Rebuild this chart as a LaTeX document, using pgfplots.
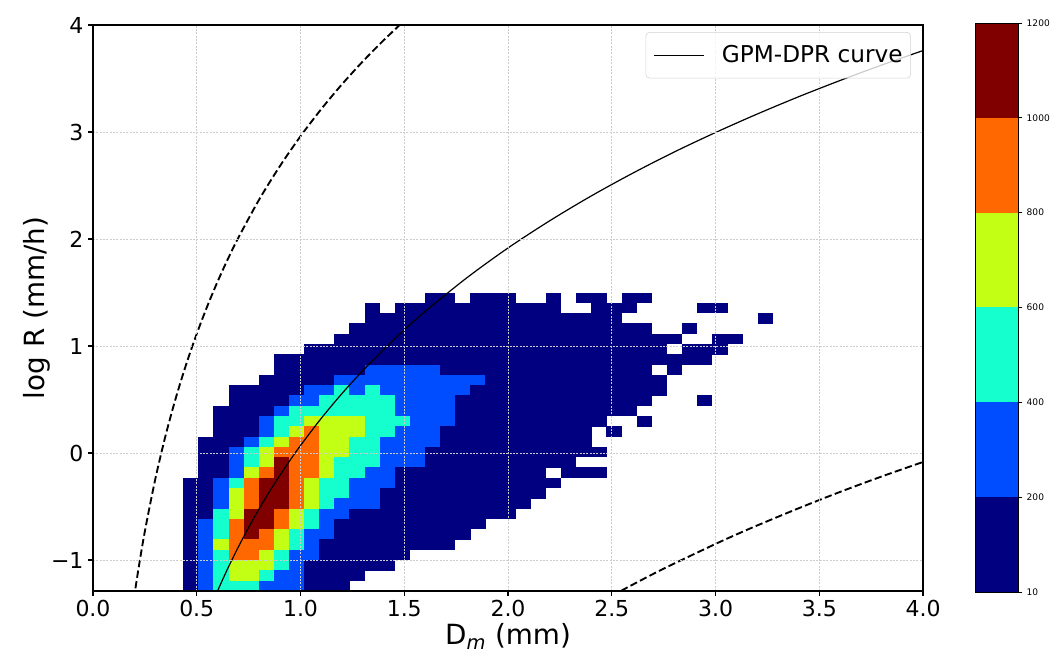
\documentclass[border=0pt]{standalone}
\usepackage{fontspec}
\setmainfont{DejaVu Sans}
\usepackage{pgfplots}
\pgfplotsset{compat=1.18}
\usepackage{pgfplotstable}

\definecolor{c1}{RGB}{0,0,128}
\definecolor{c2}{RGB}{0,76,255}
\definecolor{c3}{RGB}{20,255,205}
\definecolor{c4}{RGB}{195,255,20}
\definecolor{c5}{RGB}{255,104,0}
\definecolor{c6}{RGB}{128,0,0}

\pgfdeclareplotmark{cell}{\pgfpathrectangle{\pgfqpoint{-5.75pt}{-3.94pt}}{\pgfqpoint{11.5pt}{7.88pt}}\pgfusepathqfill}

% histogram classes: rows from top (logR=1.45) downwards, columns from Dm=0.47 rightwards
% 0 empty, 1: 10-200, 2: 200-400, 3: 400-600, 4: 600-800, 5: 800-1000, 6: 1000-1200
\pgfplotstableread[header=false]{
0 0 0 0 0 0 0 0 0 0  0 0 0 0 0 0 1 1 0 1  1 1 0 0 1 0 1 1 0 1  1 0 0 0 0 0 0 0 0
0 0 0 0 0 0 0 0 0 0  0 0 1 0 1 1 1 1 1 1  1 1 1 1 1 0 0 1 1 1  0 0 0 0 1 1 0 0 0
0 0 0 0 0 0 0 0 0 0  0 0 1 1 1 1 1 1 1 1  1 1 1 1 1 1 1 1 1 0  0 0 0 0 0 0 0 0 1
0 0 0 0 0 0 0 0 0 0  0 1 1 1 1 1 1 1 1 1  1 1 1 1 1 1 1 1 1 1  1 0 0 1 0 0 0 0 0
0 0 0 0 0 0 0 0 0 0  1 1 1 1 1 1 1 1 1 1  1 1 1 1 1 1 1 1 1 1  1 1 1 0 0 1 1 0 0
0 0 0 0 0 0 0 0 1 1  1 1 1 1 1 1 1 1 1 1  1 1 1 1 1 1 1 1 1 1  1 1 0 1 1 1 0 0 0
0 0 0 0 0 0 1 1 1 1  1 1 1 1 1 1 1 1 1 1  1 1 1 1 1 1 1 1 1 1  1 1 1 1 1 0 0 0 0
0 0 0 0 0 0 1 1 1 1  1 1 2 2 2 2 2 1 1 1  1 1 1 1 1 1 1 1 1 1  1 0 1 0 0 0 0 0 0
0 0 0 0 0 1 1 1 1 1  2 2 2 2 2 2 2 2 2 2  1 1 1 1 1 1 1 1 1 1  1 1 0 0 0 0 0 0 0
0 0 0 1 1 1 1 1 2 2  3 2 3 2 2 2 2 2 2 1  1 1 1 1 1 1 1 1 1 1  1 1 0 0 0 0 0 0 0
0 0 0 1 1 1 1 2 2 3  3 3 3 3 2 2 2 2 1 1  1 1 1 1 1 1 1 1 1 1  1 0 0 0 1 0 0 0 0
0 0 1 1 1 1 2 3 3 3  3 3 3 3 2 2 2 2 1 1  1 1 1 1 1 1 1 1 1 1  0 0 0 0 0 0 0 0 0
0 0 1 1 1 2 3 3 4 4  4 4 3 3 3 2 2 2 1 1  1 1 1 1 1 1 1 1 0 0  1 0 0 0 0 0 0 0 0
0 0 1 1 1 2 3 4 5 4  4 4 3 3 2 2 2 1 1 1  1 1 1 1 1 1 1 0 1 0  0 0 0 0 0 0 0 0 0
0 1 1 1 2 3 4 5 5 4  4 3 3 2 2 2 2 1 1 1  1 1 1 1 1 1 1 0 0 0  0 0 0 0 0 0 0 0 0
0 1 1 2 3 4 5 5 5 4  4 3 3 2 2 2 1 1 1 1  1 1 1 1 1 1 1 1 0 0  0 0 0 0 0 0 0 0 0
0 1 1 2 3 4 6 5 5 4  3 3 3 2 2 2 1 1 1 1  1 1 1 1 1 1 0 0 0 0  0 0 0 0 0 0 0 0 0
0 1 1 2 4 5 6 5 5 4  3 3 2 2 1 1 1 1 1 1  1 1 1 1 0 1 1 1 0 0  0 0 0 0 0 0 0 0 0
1 1 2 3 5 6 6 5 4 3  3 2 2 2 1 1 1 1 1 1  1 1 1 1 1 0 0 0 0 0  0 0 0 0 0 0 0 0 0
1 1 2 4 5 6 6 5 4 3  3 2 2 1 1 1 1 1 1 1  1 1 1 1 0 0 0 0 0 0  0 0 0 0 0 0 0 0 0
1 1 2 4 5 6 6 5 4 3  2 2 2 1 1 1 1 1 1 1  1 1 1 0 0 0 0 0 0 0  0 0 0 0 0 0 0 0 0
1 1 3 4 6 6 5 4 3 2  2 1 1 1 1 1 1 1 1 1  1 1 0 0 0 0 0 0 0 0  0 0 0 0 0 0 0 0 0
1 2 3 5 6 6 5 4 3 2  1 1 1 1 1 1 1 1 1 1  0 0 0 0 0 0 0 0 0 0  0 0 0 0 0 0 0 0 0
1 2 3 5 6 5 4 3 2 2  1 1 1 1 1 1 1 1 1 0  0 0 0 0 0 0 0 0 0 0  0 0 0 0 0 0 0 0 0
1 2 4 5 5 5 4 3 2 1  1 1 1 1 1 1 1 1 0 0  0 0 0 0 0 0 0 0 0 0  0 0 0 0 0 0 0 0 0
1 2 3 5 5 4 3 2 2 1  1 1 1 1 1 0 0 0 0 0  0 0 0 0 0 0 0 0 0 0  0 0 0 0 0 0 0 0 0
1 2 3 4 4 4 3 2 1 1  1 1 1 1 0 0 0 0 0 0  0 0 0 0 0 0 0 0 0 0  0 0 0 0 0 0 0 0 0
1 2 3 4 4 3 2 2 1 1  1 1 0 0 0 0 0 0 0 0  0 0 0 0 0 0 0 0 0 0  0 0 0 0 0 0 0 0 0
1 2 3 3 3 2 2 2 1 1  1 0 0 0 0 0 0 0 0 0  0 0 0 0 0 0 0 0 0 0  0 0 0 0 0 0 0 0 0
}\hist

\begin{document}
\begin{tikzpicture}
\path[use as bounding box] (0,0) rectangle (792pt,489.75pt);
\begin{axis}[
  at={(69.75pt,46.5pt)}, anchor=south west,
  scale only axis, width=622.5pt, height=424.5pt,
  xmin=0, xmax=4, ymin=-1.2897, ymax=4,
  axis on top, clip marker paths=true,
  xtick={0,0.5,1,1.5,2,2.5,3,3.5,4},
  xticklabels={0.0,0.5,1.0,1.5,2.0,2.5,3.0,3.5,4.0},
  ytick={-1,0,1,2,3,4},
  yticklabels={−1,0,1,2,3,4},
  tick label style={font=\fontsize{16.5}{19}\selectfont},
  tick align=outside, tick pos=left,
  major tick length=3.6pt,
  tick style={black, line width=0.8pt},
  axis line style={line width=0.8pt},
  grid=major,
  major grid style={gray!40, line width=0.5pt, dash pattern=on 1.5pt off 1pt},
  xlabel={D\textsubscript{\textit{m}} (mm)},
  ylabel={log R (mm/h)},
  xlabel style={font=\fontsize{20.85}{24}\selectfont, at={(axis description cs:0.5,-0.0954)}, anchor=base},
  ylabel style={font=\fontsize{20.85}{24}\selectfont, at={(axis description cs:-0.059,0.5)}, anchor=base},
  legend style={at={(0.9855,0.9876)}, anchor=north east, draw=gray!35, rounded corners=3pt,
    fill=white, fill opacity=0.8, text opacity=1, font=\fontsize{17.4}{20}\selectfont,
    inner xsep=6pt, inner ysep=10pt, column sep=12.75pt, nodes={inner sep=0pt}},
  legend image code/.code={\draw[#1] (0pt,0pt) -- (37.5pt,0pt);},
]
\pgfplotsinvokeforeach{0,...,38}{
  \addplot[scatter, only marks, mark=cell, point meta=explicit symbolic, forget plot,
    scatter/classes={0={fill opacity=0, draw opacity=0}, 1={fill=c1}, 2={fill=c2},
      3={fill=c3}, 4={fill=c4}, 5={fill=c5}, 6={fill=c6}}]
    table[x expr={0.4716+0.072843*#1}, y expr={1.45-0.09613*\coordindex}, meta index=#1] {\hist};
}
\addplot[black, line width=0.9pt, smooth] coordinates {
(0.58,-1.380) (0.6,-1.290) (0.65,-1.077) (0.7,-0.880) (0.75,-0.696) (0.8,-0.524)
(0.85,-0.363) (0.9,-0.211) (0.95,-0.067) (1.0,0.070) (1.1,0.324) (1.2,0.556)
(1.3,0.769) (1.4,0.966) (1.5,1.150) (1.6,1.322) (1.8,1.635) (2.0,1.916)
(2.2,2.169) (2.4,2.401) (2.6,2.614) (2.8,2.812) (3.0,2.995) (3.2,3.167)
(3.4,3.329) (3.6,3.481) (3.8,3.625) (4.0,3.761)};
\addlegendentry{GPM-DPR curve}
\addplot[black, line width=1.4pt, dash pattern=on 5.5pt off 2.5pt, smooth, forget plot] coordinates {
(0.19,-1.462) (0.2,-1.325) (0.22,-1.072) (0.25,-0.731) (0.3,-0.246) (0.35,0.165)
(0.4,0.520) (0.45,0.834) (0.5,1.114) (0.55,1.368) (0.6,1.600) (0.65,1.813)
(0.7,2.010) (0.8,2.366) (0.9,2.679) (1.0,2.960) (1.1,3.214) (1.2,3.446)
(1.3,3.659) (1.4,3.856) (1.5,4.040)};
\addplot[black, line width=1.4pt, dash pattern=on 5.5pt off 2.5pt, smooth, forget plot] coordinates {
(2.5,-1.335) (2.6,-1.231) (2.7,-1.130) (2.8,-1.034) (3.0,-0.850) (3.1,-0.762)
(3.2,-0.678) (3.4,-0.517) (3.6,-0.364) (3.8,-0.220) (4.0,-0.084)};
\end{axis}
\begin{axis}[
  at={(731.25pt,45.75pt)}, anchor=south west,
  scale only axis, width=32.25pt, height=426.75pt,
  xmin=0, xmax=1, ymin=0, ymax=6,
  xtick=\empty,
  ytick={0,1,2,3,4,5,6},
  yticklabels={10,200,400,600,800,1000,1200},
  ytick pos=right, yticklabel pos=right,
  tick align=outside, major tick length=3pt,
  tick style={black, line width=0.6pt},
  axis line style={line width=0.6pt},
  tick label style={font=\fontsize{6.8}{8}\selectfont},
  axis on top,
]
\addplot[fill=c1, draw=none] coordinates {(0,0) (1,0) (1,1) (0,1)} -- cycle;
\addplot[fill=c2, draw=none] coordinates {(0,1) (1,1) (1,2) (0,2)} -- cycle;
\addplot[fill=c3, draw=none] coordinates {(0,2) (1,2) (1,3) (0,3)} -- cycle;
\addplot[fill=c4, draw=none] coordinates {(0,3) (1,3) (1,4) (0,4)} -- cycle;
\addplot[fill=c5, draw=none] coordinates {(0,4) (1,4) (1,5) (0,5)} -- cycle;
\addplot[fill=c6, draw=none] coordinates {(0,5) (1,5) (1,6) (0,6)} -- cycle;
\end{axis}
\end{tikzpicture}
\end{document}
